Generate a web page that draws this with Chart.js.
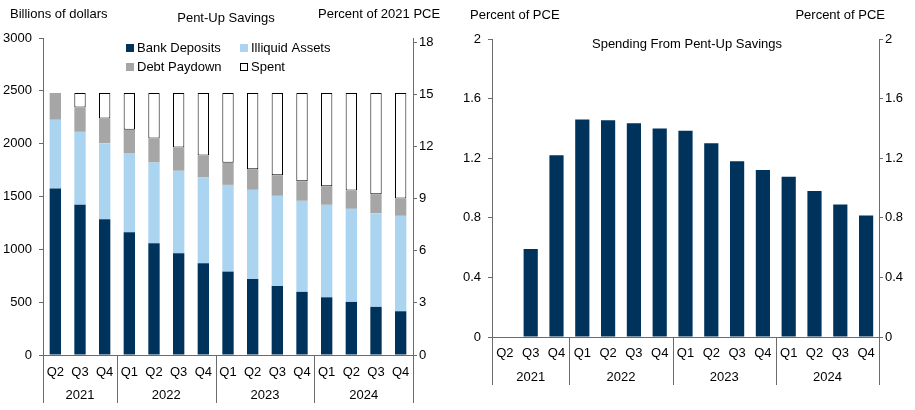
<!DOCTYPE html>
<html>
<head>
<meta charset="utf-8">
<script src="https://cdn.jsdelivr.net/npm/chart.js@4"></script>
<style>
  body { margin: 0; background: #fff; }
  #wrap { position: relative; width: 915px; height: 410px; }
  canvas { position: absolute; top: 0; }
  #savingsChart { left: 0; }
  #spendChart { left: 445px; }
</style>
</head>
<body>
<div id="wrap">
  <canvas id="savingsChart" width="445" height="410"></canvas>
  <canvas id="spendChart" width="470" height="410"></canvas>
</div>
<script>
const quarters = ['Q2', 'Q3', 'Q4', 'Q1', 'Q2', 'Q3', 'Q4', 'Q1', 'Q2', 'Q3', 'Q4', 'Q1', 'Q2', 'Q3', 'Q4']
const years = ['2021', '2022', '2023', '2024']
const yearStart = [0, 3, 7, 11]

// billions of dollars
const bankDeposits = [1575, 1421, 1285, 1162, 1058, 963, 868, 789, 720, 654, 597, 546, 502, 455, 414]
const illiquidAssets = [651, 691, 720, 749, 764, 780, 812, 821, 843, 852, 862, 875, 881, 887, 903]
const debtPaydown = [254, 231, 234, 220, 227, 221, 208, 209, 196, 196, 186, 177, 173, 180, 164]
const spent = [null, 137, 241, 349, 431, 516, 592, 661, 721, 778, 835, 882, 924, 958, 999]

// percent of PCE
const spending = [0, 0.59, 1.22, 1.46, 1.455, 1.435, 1.40, 1.385, 1.30, 1.18, 1.12, 1.075, 0.98, 0.89, 0.815]

const NAVY = '#00335c'
const LIGHT = '#abd4f1'
const GREY = '#a6a6a6'
const AXIS = '#6b6b6b'
const FONT = '"Liberation Sans", Arial, sans-serif'

Chart.defaults.font.family = FONT
Chart.defaults.font.size = 13
Chart.defaults.color = '#000'

function text(ctx, s, x, y, align) {
  ctx.textAlign = align || 'left'
  ctx.textBaseline = 'middle'
  ctx.fillText(s, x, y)
}

// two-level category labels: quarters, then years with separators
function groupLabels(quarterY, yearY, lineEnd) {
  return {
    id: 'groupLabels',
    afterDraw(chart) {
      const ctx = chart.ctx
      const x = chart.scales.x
      const area = chart.chartArea
      ctx.save()
      ctx.font = '13px ' + FONT
      ctx.fillStyle = '#000'
      quarters.forEach((q, i) => text(ctx, q, x.getPixelForValue(i), quarterY, 'center'))
      ctx.strokeStyle = AXIS
      ctx.lineWidth = 1
      const edges = yearStart.map(i => i === 0 ? area.left : (x.getPixelForValue(i - 1) + x.getPixelForValue(i)) / 2)
      edges.push(area.right)
      edges.forEach(px => {
        ctx.beginPath()
        ctx.moveTo(Math.round(px) + 0.5, area.bottom)
        ctx.lineTo(Math.round(px) + 0.5, lineEnd)
        ctx.stroke()
      })
      years.forEach((y, i) => text(ctx, y, (edges[i] + edges[i + 1]) / 2, yearY, 'center'))
      ctx.restore()
    }
  }
}

function titles(items) {
  return {
    id: 'titles',
    afterDraw(chart) {
      const ctx = chart.ctx
      ctx.save()
      ctx.font = '13px ' + FONT
      ctx.fillStyle = '#000'
      items.forEach(t => text(ctx, t[0], t[1], t[2], t[3]))
      ctx.restore()
    }
  }
}

const savingsLegend = {
  id: 'savingsLegend',
  afterDraw(chart) {
    const ctx = chart.ctx
    const spots = [[126, 48], [240, 48], [126, 67], [240, 67]]
    ctx.save()
    ctx.font = '13px ' + FONT
    chart.data.datasets.forEach((ds, i) => {
      const [x, y] = spots[i]
      ctx.fillStyle = ds.backgroundColor
      ctx.fillRect(x, y - 4, 8, 8)
      if (ds.borderWidth) {
        ctx.strokeStyle = ds.borderColor
        ctx.lineWidth = 1
        ctx.strokeRect(x + 0.5, y - 3.5, 7, 7)
      }
      ctx.fillStyle = '#000'
      text(ctx, ds.label, x + 11, y)
    })
    ctx.restore()
  }
}

function yAxis(position, width, opts) {
  return Object.assign({
    position: position,
    afterFit: s => { s.width = width },
    border: { display: true, color: AXIS },
    grid: { drawOnChartArea: false, drawTicks: true, tickLength: 4, color: AXIS }
  }, opts)
}

const plain = v => String(+v.toFixed(1))

new Chart(document.getElementById('savingsChart'), {
  type: 'bar',
  data: {
    labels: quarters,
    datasets: [
      { label: 'Bank Deposits', data: bankDeposits, backgroundColor: NAVY, borderWidth: 0 },
      { label: 'Illiquid Assets', data: illiquidAssets, backgroundColor: LIGHT, borderWidth: 0 },
      { label: 'Debt Paydown', data: debtPaydown, backgroundColor: GREY, borderWidth: 0 },
      { label: 'Spent', data: spent, backgroundColor: '#ffffff', borderColor: '#000', borderWidth: 1, borderSkipped: false }
    ]
  },
  options: {
    responsive: false,
    animation: false,
    devicePixelRatio: 1,
    layout: { padding: { top: 38, left: 0, right: 0, bottom: 0 } },
    datasets: { bar: { categoryPercentage: 1, barPercentage: 0.46 } },
    plugins: { legend: { display: false }, tooltip: { enabled: false } },
    scales: {
      x: {
        stacked: true,
        afterFit: s => { s.height = 55 },
        border: { display: true, color: AXIS },
        grid: { display: false },
        ticks: { display: false }
      },
      y: yAxis('left', 43, {
        stacked: true, min: 0, max: 3000,
        ticks: { stepSize: 500, padding: 7, callback: plain }
      }),
      y2: yAxis('right', 32, {
        min: 0, max: 18.24,
        ticks: { stepSize: 3, padding: 2, includeBounds: false, callback: plain }
      })
    }
  },
  plugins: [
    groupLabels(372, 395, 403),
    titles([
      ['Billions of dollars', 10, 14, 'left'],
      ['Pent-Up Savings', 226, 18, 'center'],
      ['Percent of 2021 PCE', 318, 14, 'left']
    ]),
    savingsLegend
  ]
})

new Chart(document.getElementById('spendChart'), {
  type: 'bar',
  data: {
    labels: quarters,
    datasets: [
      { label: 'Spending From Pent-Up Savings', data: spending, backgroundColor: NAVY, borderWidth: 0 }
    ]
  },
  options: {
    responsive: false,
    animation: false,
    devicePixelRatio: 1,
    layout: { padding: { top: 39, left: 0, right: 0, bottom: 0 } },
    datasets: { bar: { categoryPercentage: 1, barPercentage: 0.55 } },
    plugins: { legend: { display: false }, tooltip: { enabled: false } },
    scales: {
      x: {
        afterFit: s => { s.height = 73 },
        border: { display: true, color: AXIS },
        grid: { display: false },
        ticks: { display: false }
      },
      y: yAxis('left', 47, {
        min: 0, max: 2,
        ticks: { stepSize: 0.4, padding: 7, callback: plain }
      }),
      y2: yAxis('right', 36, {
        min: 0, max: 2,
        ticks: { stepSize: 0.4, padding: 2, callback: plain }
      })
    }
  },
  plugins: [
    groupLabels(353, 377, 385),
    titles([
      ['Percent of PCE', 25, 15, 'left'],
      ['Spending From Pent-Up Savings', 242, 44, 'center'],
      ['Percent of PCE', 440, 15, 'right']
    ])
  ]
})
</script>
</body>
</html>
